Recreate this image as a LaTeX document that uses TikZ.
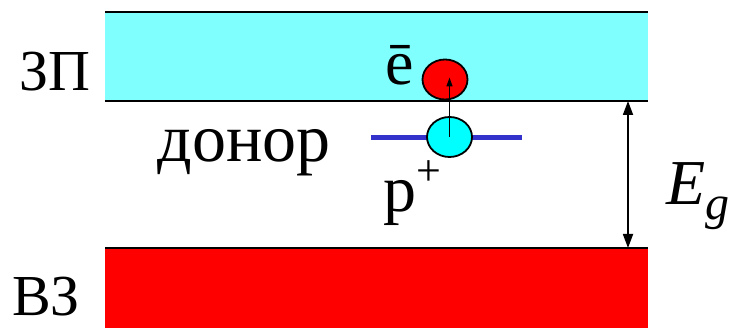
\documentclass[tikz,border=0pt]{standalone}
\usepackage{fontspec}
\setmainfont{LiberationSerif-Regular.ttf}[ItalicFont=LiberationSerif-Italic.ttf,BoldFont=LiberationSerif-Bold.ttf]
\usetikzlibrary{shapes.geometric,arrows.meta}
\definecolor{cbcyan}{RGB}{128,255,255}
\definecolor{cbred}{RGB}{255,0,0}
\definecolor{lvlblue}{RGB}{51,51,204}
\definecolor{holecyan}{RGB}{0,255,255}
\tikzset{
  edge/.style={line width=2pt,black},
  lbl/.style={inner sep=0pt,anchor=base},
  particle/.style={ellipse,draw=black,line width=1.8pt,minimum width=45pt,minimum height=40pt,inner sep=0pt},
  gaparrow/.style={line width=1.8pt,{Triangle[length=14pt,width=10pt]}-{Triangle[length=14pt,width=10pt]}},
  jump/.style={line width=1.5pt,-{Triangle[length=9pt,width=6pt]}}
}
\begin{document}
\begin{tikzpicture}[x=1pt,y=-1pt]
\useasboundingbox (0,0) rectangle (730,328);
% bands
\fill[cbcyan] (105,12) rectangle (648,101);
\draw[edge] (105,12) -- (648,12);
\draw[edge] (105,101) -- (648,101);
\fill[cbred] (105,248) rectangle (648,328);
\draw[edge] (105,248) -- (648,248);
% donor level
\coordinate (lvlL) at (371,138);
\coordinate (lvlR) at (522,138);
\draw[lvlblue,line width=5pt] (lvlL) -- (lvlR);
\node[particle,fill=holecyan] (hole) at (449.5,137) {};
\node[particle,fill=cbred] (el) at (445,79.5) {};
\draw[jump] (hole.center) -- ([yshift=2pt]hole.center |- el.center);
% gap arrow
\coordinate (gtop) at (628,101);
\coordinate (gbot) at (628,248);
\draw[gaparrow] (gtop) -- (gbot);
% labels
\node[lbl] (cb) at (55,91) {\fontsize{58}{58}\selectfont ЗП};
\node[lbl] (vb) at (46,315) {\fontsize{58}{58}\selectfont ВЗ};
\node[lbl] (don) at (244,162) {\fontsize{68}{68}\selectfont донор};
\node[lbl] (elab) at (400,85) {\fontsize{64}{64}\selectfont ē};
\node[lbl,anchor=base west] (plab) at (383,212) {\fontsize{66}{66}\selectfont p\raisebox{0.4em}{\fontsize{44}{44}\selectfont +}};
\node[lbl,anchor=base west] (eg) at (666,205) {\fontsize{64}{64}\selectfont\itshape E\raisebox{-0.22em}{\fontsize{48}{48}\selectfont g}};
\end{tikzpicture}
\end{document}
